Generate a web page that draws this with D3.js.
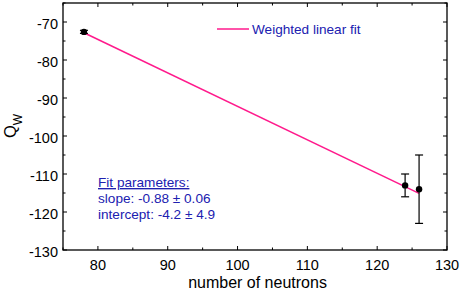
<!DOCTYPE html>
<html>
<head>
<meta charset="UTF-8">
<style>
  body { margin: 0; background: #fff; }
  text { font-family: "Liberation Sans", Arial, sans-serif; }
</style>
</head>
<body>
<script src="https://d3js.org/d3.v7.min.js"></script>
<script>
// data
const neutrons = [78, 124, 126];
const qw = [-72.6, -113, -114];
const qwErr = [0.4, 3, 9];
const fitSlope = -0.88;
const fitIntercept = -4.2;
const fitRange = [78, 126];
const xTicks = [80, 90, 100, 110, 120, 130];
const yTicks = [-70, -80, -90, -100, -110, -120, -130];
const fitText = ["Fit parameters:", "slope: -0.88 \u00b1 0.06", "intercept: -4.2 \u00b1 4.9"];

const W = 463, H = 293;
const m = {left: 63, right: 447, top: 3, bottom: 250};
const pink = "#ff1a8c", blue = "#2020b0";

const svg = d3.select("body").append("svg").attr("width", W).attr("height", H);

const x = d3.scaleLinear().domain([75, 130]).range([m.left, m.right]);
const y = d3.scaleLinear().domain([-130, -65]).range([m.bottom, m.top]);

// frame
svg.append("rect")
  .attr("x", m.left).attr("y", m.top)
  .attr("width", m.right - m.left).attr("height", m.bottom - m.top)
  .attr("fill", "none").attr("stroke", "#000").attr("stroke-width", 1.3);

// ticks, pointing inside, mirrored on top/right
const xMinor = d3.range(75, 131, 5);
const yMinor = d3.range(-130, -64, 5);
const tk = svg.append("g").attr("stroke", "#000").attr("stroke-width", 1);
xMinor.forEach(v => {
  const len = v % 10 === 0 ? 4 : 2.5;
  tk.append("line").attr("x1", x(v)).attr("x2", x(v)).attr("y1", m.bottom).attr("y2", m.bottom - len);
  tk.append("line").attr("x1", x(v)).attr("x2", x(v)).attr("y1", m.top).attr("y2", m.top + len);
});
yMinor.forEach(v => {
  const len = v % 10 === 0 ? 4 : 2.5;
  tk.append("line").attr("y1", y(v)).attr("y2", y(v)).attr("x1", m.left).attr("x2", m.left + len);
  tk.append("line").attr("y1", y(v)).attr("y2", y(v)).attr("x1", m.right).attr("x2", m.right - len);
});

// tick labels
svg.append("g").selectAll("text").data(xTicks).join("text")
  .attr("x", d => x(d)).attr("y", m.bottom + 20)
  .attr("text-anchor", "middle").attr("font-size", 14.5).text(d => d);
svg.append("g").selectAll("text").data(yTicks).join("text")
  .attr("x", m.left - 5).attr("y", d => y(d) + 6.5)
  .attr("text-anchor", "end").attr("font-size", 14.5).text(d => d);

// axis titles
svg.append("text").attr("x", 257.5).attr("y", 288)
  .attr("text-anchor", "middle").attr("font-size", 16).text("number of neutrons");
const yt = svg.append("text").attr("transform", "translate(15.5,126) rotate(-90)")
  .attr("text-anchor", "middle").attr("font-size", 16.5);
yt.append("tspan").text("Q");
yt.append("tspan").attr("font-size", 12).attr("dy", 6).text("W");

// fit line
svg.append("line")
  .attr("x1", x(fitRange[0])).attr("y1", y(fitIntercept + fitSlope * fitRange[0]))
  .attr("x2", x(fitRange[1])).attr("y2", y(fitIntercept + fitSlope * fitRange[1]))
  .attr("stroke", pink).attr("stroke-width", 1.5);

// error bars + points
const pts = neutrons.map((n, i) => ({n, q: qw[i], e: qwErr[i]}));
const eb = svg.append("g").attr("stroke", "#000").attr("stroke-width", 1.2);
pts.forEach(d => {
  eb.append("line").attr("x1", x(d.n)).attr("x2", x(d.n)).attr("y1", y(d.q - d.e)).attr("y2", y(d.q + d.e));
  [d.q - d.e, d.q + d.e].forEach(v => {
    eb.append("line").attr("x1", x(d.n) - 4).attr("x2", x(d.n) + 4).attr("y1", y(v)).attr("y2", y(v));
  });
});
svg.append("g").selectAll("circle").data(pts).join("circle")
  .attr("cx", d => x(d.n)).attr("cy", d => y(d.q)).attr("r", 3.2).attr("fill", "#000");

// legend
svg.append("line").attr("x1", 217).attr("x2", 249).attr("y1", 29).attr("y2", 29)
  .attr("stroke", pink).attr("stroke-width", 1.5);
svg.append("text").attr("x", 252).attr("y", 33.5).attr("font-size", 13.6)
  .attr("fill", blue).text("Weighted linear fit");

// fit parameter box
svg.append("g").selectAll("text").data(fitText).join("text")
  .attr("x", 98).attr("y", (d, i) => 187 + i * 16)
  .attr("font-size", 13.6).attr("fill", blue)
  .attr("text-decoration", (d, i) => i === 0 ? "underline" : null)
  .text(d => d);
</script>
</body>
</html>
